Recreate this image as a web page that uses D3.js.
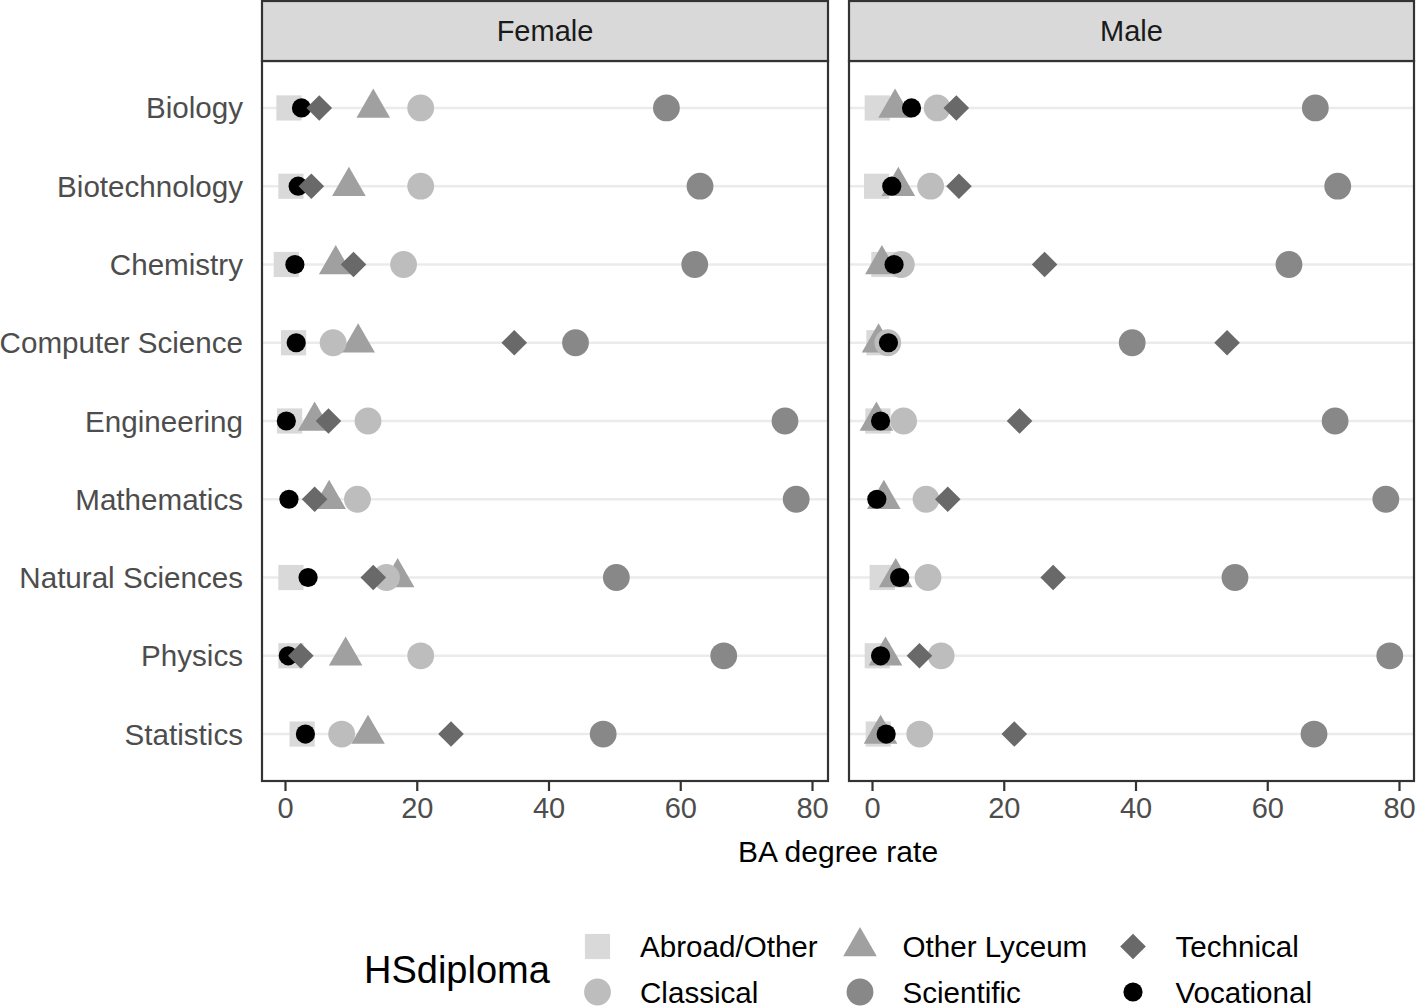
<!DOCTYPE html>
<html>
<head>
<meta charset="utf-8">
<script src="https://cdn.jsdelivr.net/npm/d3@7"></script>
<style>
  html, body { margin: 0; padding: 0; background: #fff; }
  svg { display: block; font-family: "Liberation Sans", Arial, Helvetica, sans-serif; }
</style>
</head>
<body>
<svg id="chart" width="1416" height="1007"></svg>
<script>
// ---------------- data ----------------
const categories = ["Biology","Biotechnology","Chemistry","Computer Science","Engineering","Mathematics","Natural Sciences","Physics","Statistics"];
const panels = ["Female","Male"];
const groups = ["Abroad/Other","Classical","Other Lyceum","Scientific","Technical","Vocational"];
const xTicks = [0, 20, 40, 60, 80];

// Female values (one per category)
const abroadF     = [0.6, 0.9, 0.2, 1.3, 0.7, null, 0.9, 0.9, 2.6];
const classicalF  = [20.6, 20.6, 18.0, 7.3, 12.6, 11.0, 15.4, 20.6, 8.6];
const lyceumF     = [13.4, 9.7, 7.7, 11.1, 4.5, 6.7, 17.1, 9.2, 12.6];
const scientificF = [57.9, 63.0, 62.2, 44.1, 75.9, 77.6, 50.3, 66.6, 48.3];
const technicalF  = [5.2, 4.0, 10.4, 34.8, 6.6, 4.5, 13.4, 2.4, 25.2];
const vocationalF = [2.5, 2.0, 1.5, 1.7, 0.2, 0.6, 3.5, 0.5, 3.1];

// Male values
const abroadM     = [0.8, 0.7, 1.8, 1.05, 0.9, null, 1.55, 0.8, 0.95];
const classicalM  = [9.9, 8.9, 4.45, 2.4, 4.8, 8.2, 8.5, 10.5, 7.25];
const lyceumM     = [3.5, 4.0, 1.5, 1.0, 0.67, 1.8, 3.6, 2.05, 1.3];
const scientificM = [67.3, 70.7, 63.3, 39.5, 70.3, 78.0, 55.1, 78.6, 67.1];
const technicalM  = [12.8, 13.2, 26.2, 53.9, 22.4, 11.5, 27.5, 7.2, 21.6];
const vocationalM = [6.0, 3.0, 3.35, 2.5, 1.3, 0.73, 4.2, 1.3, 2.15];

const seriesByPanel = {
  "Female": {"Abroad/Other": abroadF, "Classical": classicalF, "Other Lyceum": lyceumF,
             "Scientific": scientificF, "Technical": technicalF, "Vocational": vocationalF},
  "Male":   {"Abroad/Other": abroadM, "Classical": classicalM, "Other Lyceum": lyceumM,
             "Scientific": scientificM, "Technical": technicalM, "Vocational": vocationalM}
};

// ---------------- styles ----------------
const colors = {"Abroad/Other":"#d9d9d9","Classical":"#bdbdbd","Other Lyceum":"#a0a0a0",
                "Scientific":"#888888","Technical":"#696969","Vocational":"#000000"};
const drawOrder = ["Abroad/Other","Other Lyceum","Classical","Scientific","Vocational","Technical"];

function circlePath(r){ return `M${r},0A${r},${r},0,1,1,${-r},0A${r},${r},0,1,1,${r},0Z`; }
function markPath(g){
  if (g === "Abroad/Other") { const s = 12.6; return `M${-s},${-s}H${s}V${s}H${-s}Z`; }
  if (g === "Other Lyceum") { const r = 19.4, xc = r*Math.sqrt(3)/2; return `M0,${-r}L${xc},${r/2}L${-xc},${r/2}Z`; }
  if (g === "Technical") { const d = 12.8; return `M0,${-d}L${d},0L0,${d}L${-d},0Z`; }
  if (g === "Vocational") return circlePath(9.6);
  return circlePath(13.4);
}

// ---------------- layout ----------------
const svg = d3.select("#chart");
const panelX = {"Female": [262, 828], "Male": [849, 1414]};
const stripTop = 1, stripBottom = 61, panelBottom = 781;
const textColor = "#4d4d4d";
const fs = 29.6;

const y = d3.scalePoint().domain(categories).range([stripBottom, panelBottom]).padding(0.6);

panels.forEach(p => {
  const [x0, x1] = panelX[p];
  const x = d3.scaleLinear().domain([0, 80]).range([x0 + 23, x0 + 550]);

  svg.append("rect").attr("x", x0).attr("y", stripBottom).attr("width", x1 - x0).attr("height", panelBottom - stripBottom).attr("fill", "#fff");

  // gridlines
  svg.append("g").selectAll("line").data(categories).join("line")
    .attr("x1", x0).attr("x2", x1)
    .attr("y1", d => y(d)).attr("y2", d => y(d))
    .attr("stroke", "#ebebeb").attr("stroke-width", 2.6);

  // points
  const pts = [];
  drawOrder.forEach(g => {
    seriesByPanel[p][g].forEach((v, i) => { if (v !== null) pts.push({g, v, c: categories[i]}); });
  });
  svg.append("g").selectAll("path").data(pts).join("path")
    .attr("d", d => markPath(d.g))
    .attr("transform", d => `translate(${x(d.v)},${y(d.c)})`)
    .attr("fill", d => colors[d.g]);

  // panel border
  svg.append("rect").attr("x", x0).attr("y", stripBottom).attr("width", x1 - x0).attr("height", panelBottom - stripBottom)
    .attr("fill", "none").attr("stroke", "#333333").attr("stroke-width", 2.2);

  // strip
  svg.append("rect").attr("x", x0).attr("y", stripTop).attr("width", x1 - x0).attr("height", stripBottom - stripTop)
    .attr("fill", "#d9d9d9").attr("stroke", "#333333").attr("stroke-width", 2.2);
  svg.append("text").attr("x", (x0 + x1) / 2).attr("y", (stripTop + stripBottom) / 2)
    .attr("text-anchor", "middle").attr("dominant-baseline", "central")
    .attr("font-size", 29).attr("fill", "#1a1a1a").text(p);

  // x axis
  const ax = svg.append("g").attr("transform", `translate(0,${panelBottom})`)
    .call(d3.axisBottom(x).tickValues(xTicks).tickSize(10).tickPadding(6).tickFormat(d3.format("d")));
  ax.select(".domain").remove();
  ax.selectAll(".tick line").attr("stroke", "#333333").attr("stroke-width", 2.2);
  ax.selectAll(".tick text").attr("font-size", 29).attr("fill", textColor)
    .attr("font-family", "Liberation Sans, Arial, sans-serif");

  // y axis labels (first panel only)
  if (p === "Female") {
    svg.append("g").selectAll("text").data(categories).join("text")
      .attr("x", 243).attr("y", d => y(d))
      .attr("text-anchor", "end").attr("dominant-baseline", "central")
      .attr("font-size", fs).attr("fill", textColor).text(d => d);
  }
});

// axis title
svg.append("text").attr("x", 838).attr("y", 851).attr("text-anchor", "middle")
  .attr("dominant-baseline", "central").attr("font-size", 30).attr("fill", "#000").text("BA degree rate");

// ---------------- legend ----------------
const leg = svg.append("g");
leg.append("text").attr("x", 364).attr("y", 970).attr("dominant-baseline", "central")
  .attr("font-size", 38).attr("fill", "#000").text("HSdiploma");
const legCols = [597.5, 860, 1133];
const legRows = [946.5, 992];
groups.forEach((g, i) => {
  const col = Math.floor(i / 2), row = i % 2;
  const cx = legCols[col], cy = legRows[row];
  leg.append("path").attr("d", markPath(g)).attr("transform", `translate(${cx},${cy})`).attr("fill", colors[g]);
  leg.append("text").attr("x", cx + 42.5).attr("y", cy).attr("dominant-baseline", "central")
    .attr("font-size", fs).attr("fill", "#000").text(g);
});
</script>
</body>
</html>
